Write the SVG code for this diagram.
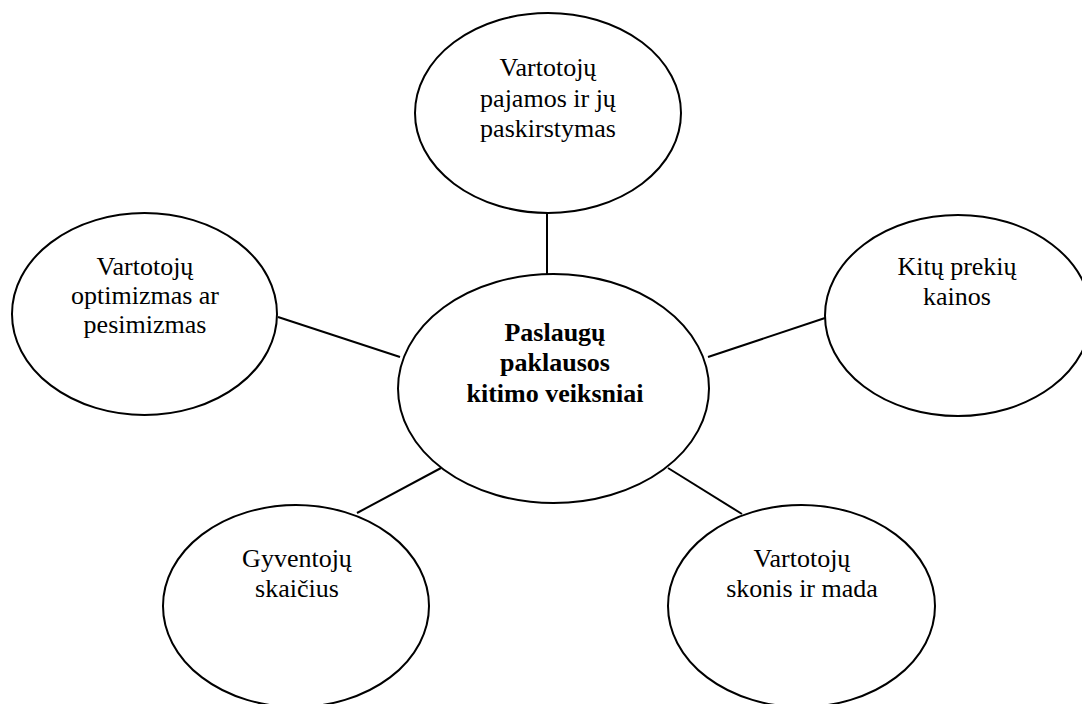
<svg xmlns="http://www.w3.org/2000/svg" width="1082" height="704" viewBox="0 0 1082 704" font-family="'Liberation Serif', 'Times New Roman', serif">
<style>
.node ellipse{fill:#fff;stroke:#000;stroke-width:2}
.conn line{stroke:#000;stroke-width:2}
text{font-family:'Liberation Serif','Times New Roman',serif;font-size:26px;fill:#000;text-anchor:middle}
.b{font-weight:bold}
</style>
<rect width="1082" height="704" fill="#fff"/>
<g id="connectors" class="conn">
<line x1="547" y1="213" x2="547" y2="274"/>
<line x1="278" y1="317" x2="400" y2="357"/>
<line x1="708" y1="357" x2="825" y2="318"/>
<line x1="357" y1="513" x2="441" y2="468"/>
<line x1="668" y1="468" x2="742" y2="514"/>
</g>
<g id="n-top" class="node">
<ellipse cx="548" cy="113" rx="133" ry="100"/>
<text x="548" y="76">Vartotojų</text>
<text x="548" y="107">pajamos ir jų</text>
<text x="548" y="137">paskirstymas</text>
</g>
<g id="n-center" class="node">
<ellipse cx="553.5" cy="388.5" rx="155.5" ry="114.5"/>
<text class="b" x="555" y="341">Paslaugų</text>
<text class="b" x="555" y="371">paklausos</text>
<text class="b" x="555" y="402">kitimo veiksniai</text>
</g>
<g id="n-left" class="node">
<ellipse cx="144.5" cy="314" rx="132.5" ry="101"/>
<text x="145" y="275">Vartotojų</text>
<text x="145" y="304">optimizmas ar</text>
<text x="145" y="333">pesimizmas</text>
</g>
<g id="n-right" class="node">
<ellipse cx="958" cy="315.5" rx="133" ry="100.5"/>
<text x="957" y="275">Kitų prekių</text>
<text x="957" y="305">kainos</text>
</g>
<g id="n-bottom-left" class="node">
<ellipse cx="296" cy="606" rx="133" ry="101"/>
<text x="297" y="567">Gyventojų</text>
<text x="297" y="597">skaičius</text>
</g>
<g id="n-bottom-right" class="node">
<ellipse cx="801.5" cy="606" rx="133.5" ry="101"/>
<text x="802" y="567">Vartotojų</text>
<text x="802" y="597">skonis ir mada</text>
</g>
</svg>
